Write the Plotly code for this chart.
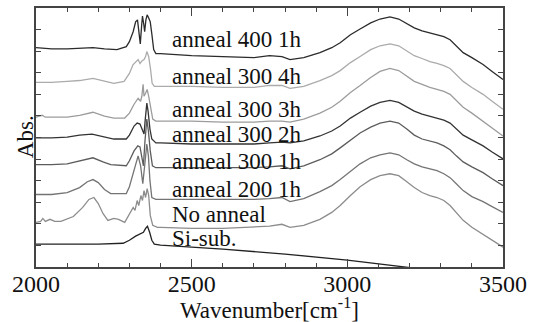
import plotly.graph_objects as go

# ---------------- data (wavenumber in cm^-1, absorbance in arbitrary offset units) ----------------
band_x = [2400, 2500, 2600, 2700, 2750, 2790, 2816, 2860, 2912, 2950, 2977, 3010, 3041, 3075,
          3105, 3137, 3165, 3191, 3215, 3240, 3265, 3288, 3310, 3330, 3350, 3372, 3400, 3436, 3465, 3500]

a400_x = [2000, 2050, 2100, 2150, 2183, 2220, 2260, 2290, 2300, 2312, 2320, 2326, 2331, 2335, 2339,
          2342, 2346, 2349, 2353, 2357, 2362, 2367, 2372, 2378, 2385] + band_x
a400_y = [10.16, 10.11, 10.11, 10.16, 10.16, 10.11, 10.07, 10.21, 10.44, 10.90, 11.36, 11.45, 10.90,
          10.34, 11.13, 11.63, 11.26, 10.90, 11.45, 11.68, 11.54, 11.36, 10.80, 10.07, 9.89,
          9.89, 9.79, 9.75, 9.70, 9.79, 9.75, 9.61, 9.70, 9.93, 10.16, 10.39, 10.76, 11.03, 11.31,
          11.49, 11.59, 11.49, 11.26, 11.08, 10.94, 10.85, 10.76, 10.67, 10.53, 10.25, 9.93, 9.70,
          9.38, 9.06, 8.69]

a300_4_x = [2000, 2050, 2100, 2140, 2183, 2220, 2250, 2283, 2300, 2312, 2320, 2328, 2334, 2341,
            2347, 2352, 2356, 2362, 2368, 2373, 2380] + band_x
a300_4_y = [8.55, 8.55, 8.60, 8.64, 8.74, 8.60, 8.51, 8.60, 8.97, 9.38, 9.52, 9.61, 9.43, 9.56,
            9.61, 9.75, 9.98, 9.75, 9.15, 8.51, 8.37,
            8.37, 8.37, 8.32, 8.32, 8.41, 8.41, 8.28, 8.37, 8.64, 8.87, 9.10, 9.47, 9.75, 10.07,
            10.25, 10.34, 10.25, 10.02, 9.79, 9.66, 9.52, 9.43, 9.33, 9.20, 8.92, 8.60, 8.32,
            8.00, 7.68, 7.31]

a300_3_x = [2000, 2020, 2030, 2060, 2100, 2140, 2183, 2220, 2250, 2285, 2300, 2315, 2328, 2336,
            2340, 2344, 2347, 2352, 2357, 2362, 2368, 2375, 2385] + band_x
a300_3_y = [6.94, 7.03, 6.94, 6.94, 6.94, 7.03, 7.17, 6.99, 6.90, 6.90, 7.13, 7.54, 7.82, 7.68,
            7.91, 8.46, 7.91, 8.05, 8.23, 7.91, 7.31, 6.85, 6.76,
            6.76, 6.76, 6.71, 6.71, 6.76, 6.76, 6.71, 6.85, 7.13, 7.40, 7.68, 8.09, 8.41, 8.78,
            9.06, 9.20, 9.10, 8.83, 8.60, 8.46, 8.32, 8.23, 8.14, 8.00, 7.72, 7.40, 7.13, 6.76,
            6.44, 6.07]

a300_2_x = [2000, 2050, 2100, 2140, 2180, 2220, 2250, 2290, 2300, 2315, 2325, 2334, 2341, 2347,
            2351, 2356, 2360, 2366, 2372, 2385] + band_x
a300_2_y = [5.98, 5.98, 6.02, 6.11, 6.16, 6.02, 5.93, 5.93, 6.11, 6.53, 6.67, 6.62, 6.39, 6.16,
            6.85, 7.59, 7.22, 6.39, 5.93, 5.75,
            5.75, 5.70, 5.70, 5.70, 5.75, 5.79, 5.75, 5.84, 6.07, 6.30, 6.53, 6.90, 7.17, 7.45,
            7.63, 7.72, 7.63, 7.40, 7.22, 7.08, 6.99, 6.90, 6.80, 6.67, 6.39, 6.11, 5.89, 5.61,
            5.33, 5.01]

a300_1_x = [2000, 2050, 2100, 2140, 2183, 2215, 2240, 2290, 2300, 2315, 2327, 2334, 2340, 2345,
            2350, 2356, 2361, 2367, 2374, 2385] + band_x
a300_1_y = [4.74, 4.74, 4.78, 4.92, 5.06, 4.87, 4.74, 4.69, 4.92, 5.38, 5.61, 5.56, 5.15, 4.69,
            5.84, 6.85, 6.30, 5.38, 4.69, 4.60,
            4.60, 4.60, 4.60, 4.60, 4.64, 4.69, 4.55, 4.69, 4.97, 5.24, 5.52, 5.89, 6.21, 6.48,
            6.67, 6.76, 6.67, 6.39, 6.11, 5.93, 5.84, 5.75, 5.61, 5.43, 5.15, 4.87, 4.64, 4.37,
            4.09, 3.77]

a200_1_x = [2000, 2050, 2100, 2140, 2165, 2183, 2200, 2220, 2240, 2290, 2300, 2315, 2328, 2336,
            2343, 2349, 2356, 2361, 2366, 2372, 2385] + band_x
a200_1_y = [3.36, 3.36, 3.45, 3.68, 3.95, 4.05, 3.91, 3.59, 3.40, 3.40, 3.72, 4.46, 5.15, 4.69,
            3.86, 4.69, 5.70, 5.15, 4.00, 3.22, 3.13,
            3.13, 3.13, 3.13, 3.13, 3.17, 3.22, 3.03, 3.17, 3.49, 3.77, 4.05, 4.41, 4.78, 5.06,
            5.20, 5.29, 5.20, 4.97, 4.78, 4.64, 4.55, 4.46, 4.32, 4.14, 3.86, 3.54, 3.26, 3.03,
            2.80, 2.53]

noanneal_x = [2000, 2015, 2022, 2030, 2045, 2060, 2080, 2100, 2120, 2150, 2170, 2186, 2200, 2215,
              2231, 2250, 2265, 2285, 2300, 2312, 2318, 2325, 2330, 2337, 2342, 2347, 2352, 2357,
              2362, 2367, 2375, 2390] + band_x
noanneal_y = [2.07, 2.11, 2.25, 2.11, 2.21, 2.11, 2.11, 2.21, 2.34, 2.76, 3.13, 3.22, 2.94, 2.48,
              2.16, 2.25, 2.21, 2.07, 2.44, 2.76, 2.62, 3.08, 2.85, 3.31, 3.08, 3.54, 3.22, 3.63,
              3.31, 2.39, 1.93, 1.84,
              1.84, 1.79, 1.79, 1.84, 1.89, 1.98, 1.84, 1.93, 2.21, 2.53, 2.85, 3.31, 3.72, 4.05,
              4.23, 4.32, 4.23, 3.95, 3.68, 3.45, 3.31, 3.22, 3.08, 2.85, 2.53, 2.16, 1.84, 1.52,
              1.24, 0.92]

si_x = [2000, 2100, 2200, 2280, 2300, 2320, 2335, 2345, 2352, 2358, 2365, 2372, 2380, 2400, 2600,
        2800, 3000, 3100, 3200, 3300, 3500]
si_y = [1.06, 1.06, 1.06, 1.10, 1.24, 1.43, 1.56, 1.61, 1.79, 1.89, 1.61, 1.24, 1.06, 1.01, 0.83,
        0.60, 0.32, 0.14, -0.05, -0.20, -0.50]

labels = ["anneal 400 1h", "anneal 300 4h", "anneal 300 3h", "anneal 300 2h",
          "anneal 300 1h", "anneal 200 1h", "No anneal", "Si-sub."]
label_y = [10.55, 8.82, 7.30, 6.12, 4.90, 3.60, 2.45, 1.32]
label_x = 2430

x_ticks = [2000, 2500, 3000, 3500]

series = [
    (a400_x, a400_y, "#2b2b2b"),
    (a300_4_x, a300_4_y, "#ababab"),
    (a300_3_x, a300_3_y, "#9c9c9c"),
    (a300_2_x, a300_2_y, "#333333"),
    (a300_1_x, a300_1_y, "#5c5c5c"),
    (a200_1_x, a200_1_y, "#747474"),
    (noanneal_x, noanneal_y, "#8c8c8c"),
    (si_x, si_y, "#222222"),
]

SERIF = "Liberation Serif"

fig = go.Figure()
for (xs, ys, col), name in zip(series, labels):
    fig.add_trace(go.Scatter(x=xs, y=ys, mode="lines", name=name,
                             line=dict(color=col, width=1.3), showlegend=False))

for txt, yv in zip(labels, label_y):
    fig.add_annotation(x=label_x, y=yv, xref="x", yref="y", text=txt, showarrow=False,
                       xanchor="left", yanchor="middle",
                       font=dict(family=SERIF, size=23, color="#111111"))

fig.add_annotation(x=0.501, y=-0.16, xref="paper", yref="paper",
                   text="Wavenumber[cm<sup>-1</sup>]", showarrow=False,
                   xanchor="center", yanchor="middle",
                   font=dict(family=SERIF, size=23, color="#111111"))
fig.add_annotation(x=-0.021, y=0.502, xref="paper", yref="paper", text="Abs.",
                   showarrow=False, textangle=-90, xanchor="center", yanchor="middle",
                   font=dict(family=SERIF, size=23, color="#111111"))

fig.update_layout(
    width=537, height=322,
    margin=dict(l=36, r=34, t=6, b=55),
    paper_bgcolor="white", plot_bgcolor="white",
    font=dict(family=SERIF),
    xaxis=dict(range=[2000, 3500], tickvals=x_ticks, ticktext=[str(v) for v in x_ticks],
               ticks="inside", ticklen=8, tickwidth=1.2, tickcolor="#444",
               minor=dict(dtick=100, ticks="inside", ticklen=4, tickwidth=1.2, tickcolor="#444"),
               showline=True, linecolor="#444", linewidth=1.5, mirror="ticks",
               showgrid=False, zeroline=False, ticklabelstandoff=-6,
               tickfont=dict(family=SERIF, size=24, color="#111111")),
    yaxis=dict(range=[0, 12], dtick=1, ticks="inside", ticklen=5, tickwidth=1.2,
               tickcolor="#444", showticklabels=False,
               showline=True, linecolor="#444", linewidth=1.5, mirror="ticks",
               showgrid=False, zeroline=False),
)

fig.write_html("out.html")
